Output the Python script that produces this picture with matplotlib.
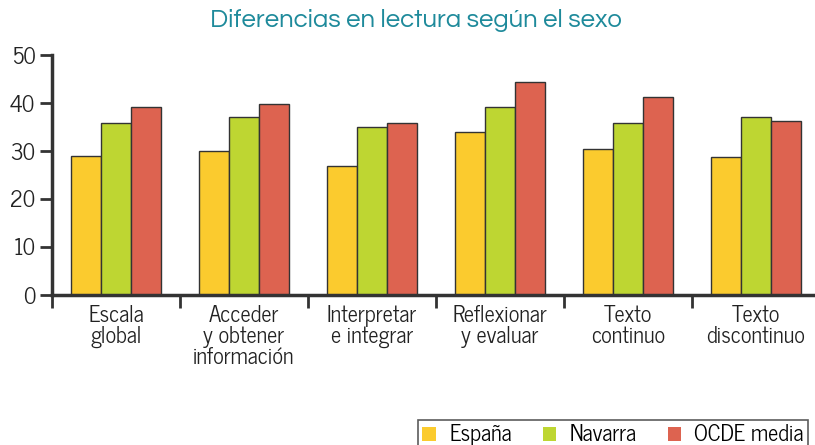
import matplotlib
matplotlib.use("Agg")
import matplotlib.pyplot as plt
import numpy as np

categories = ["Escala\nglobal", "Acceder\ny obtener\ninformación", "Interpretar\ne integrar",
              "Reflexionar\ny evaluar", "Texto\ncontinuo", "Texto\ndiscontinuo"]
espana = [29.0, 30.1, 26.8, 33.9, 30.5, 28.8]
navarra = [35.9, 37.0, 35.1, 39.2, 35.8, 37.1]
ocde = [39.1, 39.7, 35.8, 44.4, 41.3, 36.3]
series_names = ["España", "Navarra", "OCDE media"]
colors = ["#FBCB2E", "#BED632", "#DD6350"]
yticks = [0, 10, 20, 30, 40, 50]

plt.rcParams['font.family'] = ["News Cycle", 'DejaVu Sans']

W, H = 815, 445
fig = plt.figure(figsize=(W / 100, H / 100), dpi=100)
ax = fig.add_axes([52 / W, 1 - 295 / H, (W - 52) / W, (295 - 55) / H])

x = np.arange(len(categories))
bw = 30 / 128
for i, (vals, c, n) in enumerate(zip([espana, navarra, ocde], colors, series_names)):
    ax.bar(x + (i - 1) * bw, vals, bw, color=c, edgecolor="#333333", linewidth=1.0, label=n)

ax.set_xlim(-0.5, -0.5 + (W - 52) / 128)
ax.set_ylim(0, 50)
ax.set_yticks(yticks)
ax.tick_params(axis='y', direction='out', length=9, width=2, color="#333333",
               labelsize=16, pad=3, labelcolor="#222222")
ax.set_xticks(np.arange(-0.5, 5.0, 1.0))
ax.set_xticklabels([])
ax.tick_params(axis='x', direction='out', length=9, width=2, color="#333333")
for xi, lab in zip(x, categories):
    ax.text(xi, -2.0, lab, ha='center', va='top', fontsize=16, color="#222222",
            linespacing=0.95, transform=ax.transData)

for s in ["top", "right"]:
    ax.spines[s].set_visible(False)
for s in ["left", "bottom"]:
    ax.spines[s].set_linewidth(2.5)
    ax.spines[s].set_color("#333333")
ax.spines["left"].set_bounds(0, 50)

fig.text(416 / W, 1 - 20 / H, "Diferencias en lectura según el sexo", ha='center', va='center',
         fontsize=18.5, color="#1E8A9B", family=["Questrial", "DejaVu Sans"])

handles, labels = ax.get_legend_handles_labels()
leg = fig.legend(handles, labels, loc='upper left', bbox_to_anchor=(418 / W, 1 - 420 / H),
                 ncol=3, frameon=True, fancybox=False, edgecolor="#333333", fontsize=16,
                 handlelength=0.6, handleheight=0.6, columnspacing=1.4, handletextpad=0.6,
                 borderaxespad=0, borderpad=0.2)
leg.get_frame().set_linewidth(1.2)
for p in leg.get_patches():
    p.set_edgecolor("none")

fig.savefig("out.png", dpi=100)
